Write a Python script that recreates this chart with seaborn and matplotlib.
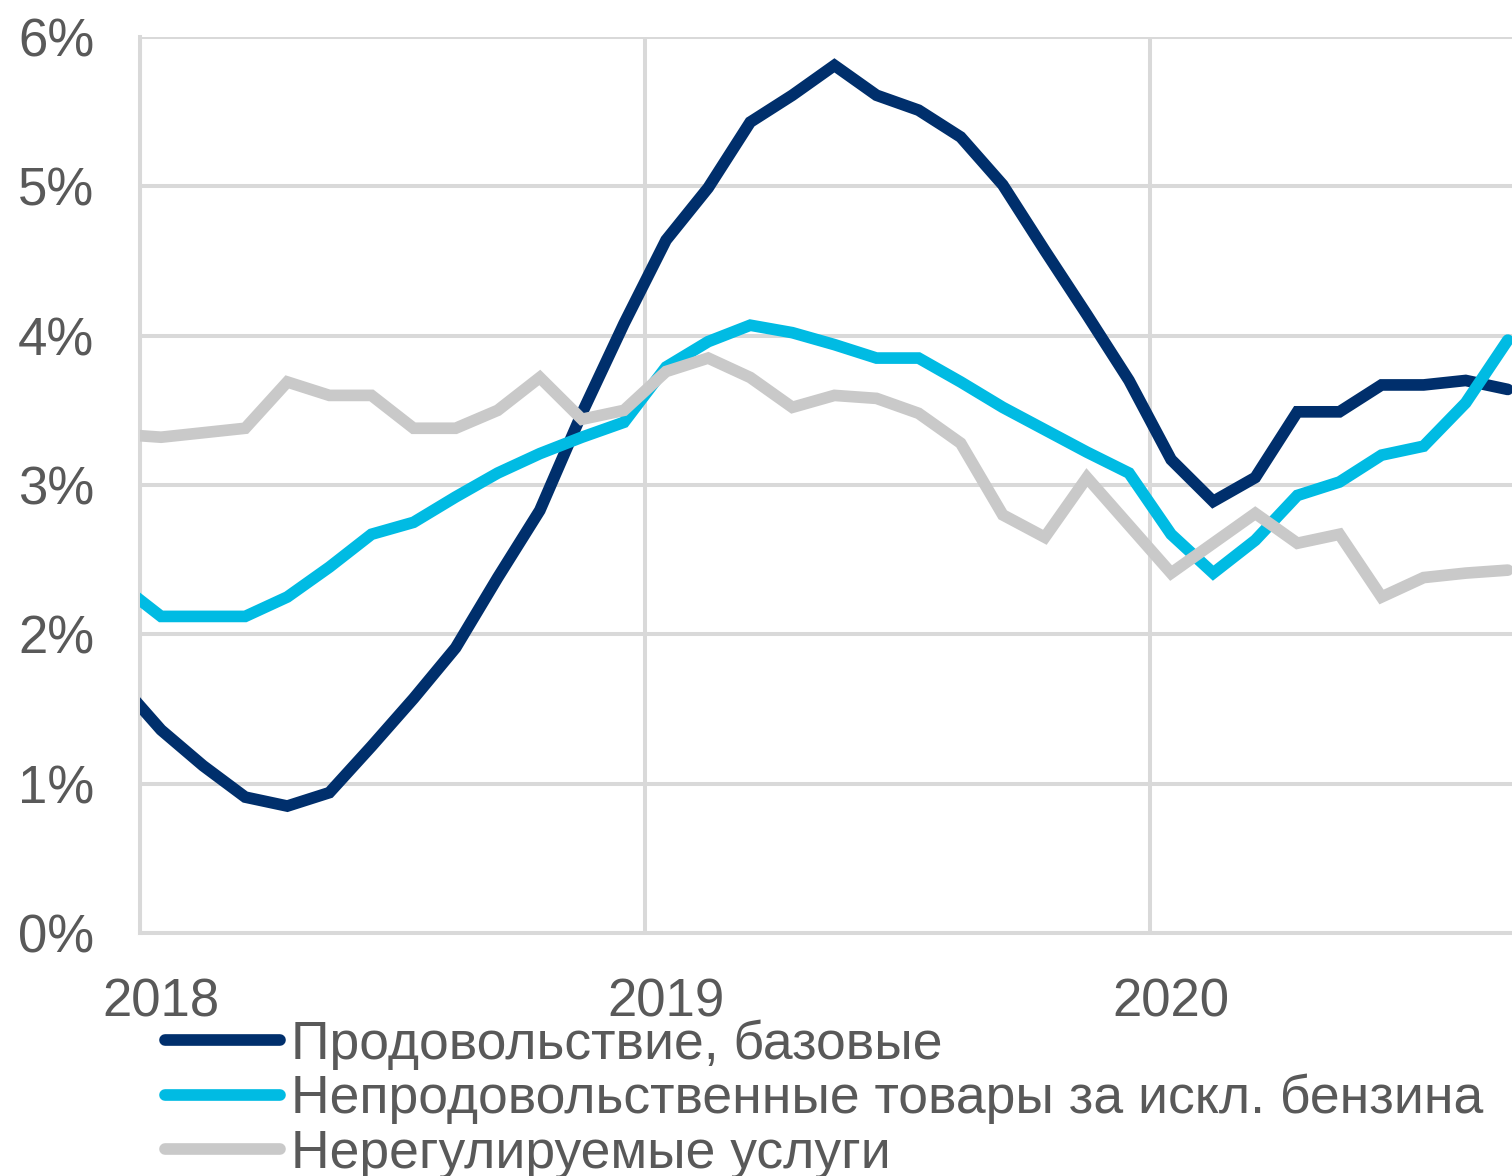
import pandas as pd
import matplotlib.pyplot as plt
import seaborn as sb

# Monthly data, Dec 2017 .. Sep 2020 (index -1 = Dec 2017, 0 = Jan 2018)

months = list(range(-1, 33))

food_core = [1.68, 1.36, 1.12, 0.91, 0.85, 0.94, 1.25, 1.57, 1.91, 2.38, 2.83,
             3.48, 4.08, 4.64, 4.99, 5.43, 5.61, 5.81, 5.61, 5.51, 5.33, 5.01,
             4.57, 4.14, 3.70, 3.17, 2.89, 3.05, 3.49, 3.49, 3.67, 3.67, 3.70, 3.64]

nonfood = [2.34, 2.12, 2.12, 2.12, 2.25, 2.45, 2.67, 2.75, 2.92, 3.08, 3.21,
           3.32, 3.42, 3.79, 3.96, 4.07, 4.02, 3.94, 3.85, 3.85, 3.69, 3.52,
           3.37, 3.22, 3.08, 2.67, 2.41, 2.63, 2.93, 3.02, 3.20, 3.26, 3.55, 3.97]

services = [3.34, 3.32, 3.35, 3.38, 3.69, 3.60, 3.60, 3.38, 3.38, 3.50, 3.72,
            3.44, 3.50, 3.76, 3.85, 3.72, 3.52, 3.60, 3.58, 3.48, 3.28, 2.80,
            2.65, 3.05, 2.73, 2.41, 2.61, 2.81, 2.61, 2.67, 2.25, 2.38, 2.41, 2.43]

series_names = ['Продовольствие, базовые',
                'Непродовольственные товары за искл. бензина',
                'Нерегулируемые услуги']
colors = ['#002F6C', '#00BBE3', '#C9C9C9']

year_ticks = [0, 12, 24]
year_labels = ['2018', '2019', '2020']

# Build a long table for seaborn

df = pd.concat([
    pd.DataFrame({'month': months, 'value': food_core, 'series': series_names[0]}),
    pd.DataFrame({'month': months, 'value': nonfood, 'series': series_names[1]}),
    pd.DataFrame({'month': months, 'value': services, 'series': series_names[2]}),
])

sb.set_style('white')
plt.rcParams['font.family'] = ['Liberation Sans', 'DejaVu Sans']

fig = plt.figure(figsize=(15.12, 11.76), dpi=100)
ax = fig.add_axes([140 / 1512, 243 / 1176, 1 - 140 / 1512, 896 / 1176])

sb.lineplot(data=df, x='month', y='value', hue='series', hue_order=series_names,
            palette=colors, linewidth=8.4, ax=ax, legend=False, zorder=3)
for line in ax.lines:
    line.set_solid_capstyle('round')
    line.set_solid_joinstyle('miter')

# Axes, grid and ticks

ax.set_xlim(-0.5, 32.1)
ax.set_ylim(0, 6)
ax.set_yticks(range(0, 7))
ax.set_yticklabels([f'{v}%' for v in range(0, 7)])
ax.set_xticks(year_ticks)
ax.set_xticklabels(year_labels)
ax.set_xticks([-0.5, 11.5, 23.5], minor=True)
ax.grid(axis='y', which='major', color='#D9D9D9', linewidth=2.9)
ax.grid(axis='x', which='minor', color='#D9D9D9', linewidth=2.9)
ax.grid(axis='x', which='major', visible=False)
ax.tick_params(axis='both', which='both', length=0, labelsize=38, colors='#595959')
ax.tick_params(axis='y', pad=33)
ax.tick_params(axis='x', pad=32)
ax.set_xlabel('')
ax.set_ylabel('')
for side in ['top', 'right']:
    ax.spines[side].set_visible(False)
for side in ['left', 'bottom']:
    ax.spines[side].set_color('#D9D9D9')
    ax.spines[side].set_linewidth(2.9)

# Legend below the chart

handles = [plt.Line2D([], [], color=c, linewidth=8.4, solid_capstyle='round') for c in colors]
leg = fig.legend(handles, series_names, loc='upper left',
                 bbox_to_anchor=(165 / 1512, 1 - 1019 / 1176), frameon=False,
                 fontsize=38.5, handlelength=2.15, handletextpad=0.2,
                 labelspacing=0.08, borderpad=0, borderaxespad=0)
for t in leg.get_texts():
    t.set_color('#595959')

plt.savefig('out.png', dpi=100)
